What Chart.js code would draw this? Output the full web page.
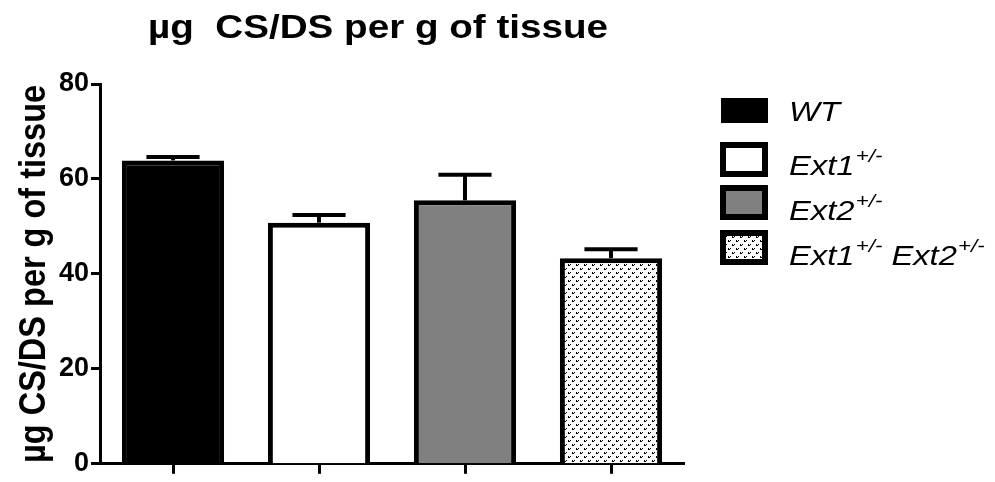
<!DOCTYPE html>
<html>
<head>
<meta charset="utf-8">
<script src="https://cdn.jsdelivr.net/npm/chart.js@4"></script>
<style>
  html, body { margin: 0; padding: 0; background: #fff; }
  #wrap { width: 995px; height: 482px; }
</style>
</head>
<body>
<div id="wrap"><canvas id="c" width="995" height="482"></canvas></div>
<script>
// ---- data ----
const categories = ['WT', 'Ext1+/-', 'Ext2+/-', 'Ext1+/- Ext2+/-'];
const meanValues = [63.9, 50.8, 55.5, 43.3];
const errorValues = [0.7, 1.6, 5.4, 1.9];
const yTicks = [0, 20, 40, 60, 80];
const chartTitle = 'µg  CS/DS per g of tissue';
const yAxisTitle = 'µg CS/DS per g of tissue';

const FONT = '"Liberation Sans", Arial, Helvetica, sans-serif';
const WIDEN = 1.17; // horizontal widening applied to the drawn texts

// dotted "v" fill used for the double heterozygote
function makeDotPattern() {
  const t = document.createElement('canvas');
  t.width = 8; t.height = 8;
  const g = t.getContext('2d');
  g.fillStyle = '#fff';
  g.fillRect(0, 0, 8, 8);
  g.fillStyle = '#000';
  [[0,0],[2,0],[1,1],[4,4],[6,4],[5,5],[0,1],[4,5]].forEach(([x, y]) => g.fillRect(x, y, 1, 1));
  return g.createPattern(t, 'repeat');
}
const dotPattern = makeDotPattern();
const fills = ['#000000', '#ffffff', '#808080', dotPattern];

// split "Ext1+/- Ext2+/-" into [text, superscript] runs
function legendRuns(label) {
  const runs = [];
  label.split(' ').forEach((word, i) => {
    const m = word.match(/^(.*?)(\+\/-)?$/);
    runs.push([(i ? ' ' : '') + m[1], m[2] || '']);
  });
  return runs;
}

// error bars: stem from the bar top plus a cap
const errorBarPlugin = {
  id: 'errorBars',
  afterDatasetsDraw(chart) {
    const ctx = chart.ctx;
    const ys = chart.scales.y;
    const meta = chart.getDatasetMeta(0);
    ctx.save();
    ctx.strokeStyle = '#000';
    ctx.lineWidth = 4;
    meta.data.forEach((bar, i) => {
      const top = ys.getPixelForValue(meanValues[i] + errorValues[i]);
      const half = bar.width * 0.26;
      ctx.beginPath();
      ctx.moveTo(bar.x, bar.y);
      ctx.lineTo(bar.x, top);
      ctx.stroke();
      ctx.beginPath();
      ctx.moveTo(bar.x - half, top);
      ctx.lineTo(bar.x + half, top);
      ctx.stroke();
    });
    ctx.restore();
  }
};

// chart title, y-axis title and the legend with superscripts
const annotationPlugin = {
  id: 'annotations',
  afterDraw(chart) {
    const ctx = chart.ctx;
    const area = chart.chartArea;
    ctx.save();
    ctx.fillStyle = '#000';

    // title
    ctx.font = 'bold 34px ' + FONT;
    ctx.textBaseline = 'alphabetic';
    ctx.textAlign = 'center';
    const tw = ctx.measureText(chartTitle).width;
    ctx.save();
    ctx.translate(378, 38);
    ctx.scale(460 / tw, 1);
    ctx.fillText(chartTitle, 0, 0);
    ctx.restore();

    // y axis title (glyph height widened like the other texts)
    ctx.font = 'bold 31px ' + FONT;
    const yw = ctx.measureText(yAxisTitle).width;
    ctx.save();
    ctx.translate(45, (area.top + area.bottom) / 2);
    ctx.rotate(-Math.PI / 2);
    ctx.scale(378 / yw, WIDEN);
    ctx.fillText(yAxisTitle, 0, 0);
    ctx.restore();

    // legend
    const rows = [
      { top: 98, h: 25, base: 121 },
      { top: 142, h: 35, base: 175 },
      { top: 185, h: 35, base: 220 },
      { top: 230, h: 35, base: 265 }
    ];
    ctx.textAlign = 'left';
    categories.forEach((label, i) => {
      const r = rows[i];
      if (i === 0) {
        ctx.fillStyle = fills[0];
        ctx.fillRect(721, r.top, 47, r.h);
      } else {
        ctx.fillStyle = '#000';
        ctx.fillRect(720, r.top, 48, r.h);
        ctx.fillStyle = fills[i];
        ctx.fillRect(726, r.top + 6, 36, r.h - 12);
      }
      ctx.fillStyle = '#000';
      ctx.save();
      ctx.translate(789, r.base);
      ctx.scale(WIDEN, 1);
      let x = 0;
      legendRuns(label).forEach(([txt, sup]) => {
        ctx.font = 'italic 28px ' + FONT;
        ctx.fillText(txt, x, 0);
        x += ctx.measureText(txt).width;
        if (sup) {
          ctx.font = 'italic 19px ' + FONT;
          ctx.fillText(sup, x + 1, -13);
          x += ctx.measureText(sup).width + 1;
        }
      });
      ctx.restore();
    });
    ctx.restore();
  }
};

new Chart(document.getElementById('c'), {
  type: 'bar',
  data: {
    labels: categories,
    datasets: [{
      data: meanValues,
      backgroundColor: fills,
      borderColor: '#000',
      borderWidth: 5,
      barPercentage: 0.7,
      categoryPercentage: 1.0
    }]
  },
  options: {
    responsive: false,
    animation: false,
    events: [],
    layout: { padding: { top: 84, right: 311, left: 0, bottom: 0 } },
    plugins: { legend: { display: false }, title: { display: false }, tooltip: { enabled: false } },
    scales: {
      x: {
        z: 1,
        offset: true,
        grid: { display: true, offset: false, drawOnChartArea: false, drawTicks: true,
                tickLength: 10, tickWidth: 3, tickColor: '#000' },
        border: { display: true, color: '#000', width: 3 },
        ticks: { display: false },
        afterFit(s) { s.height = 14; }
      },
      y: {
        min: 0,
        max: 80,
        afterBuildTicks(s) { s.ticks = yTicks.map(v => ({ value: v })); },
        ticks: { color: '#000', padding: 2, font: { family: FONT, size: 27, weight: 'bold' } },
        grid: { drawOnChartArea: false, drawTicks: true, tickLength: 9, tickWidth: 3, tickColor: '#000' },
        border: { display: true, color: '#000', width: 3 },
        afterFit(s) { s.width = 100; }
      }
    }
  },
  plugins: [errorBarPlugin, annotationPlugin]
});
</script>
</body>
</html>
